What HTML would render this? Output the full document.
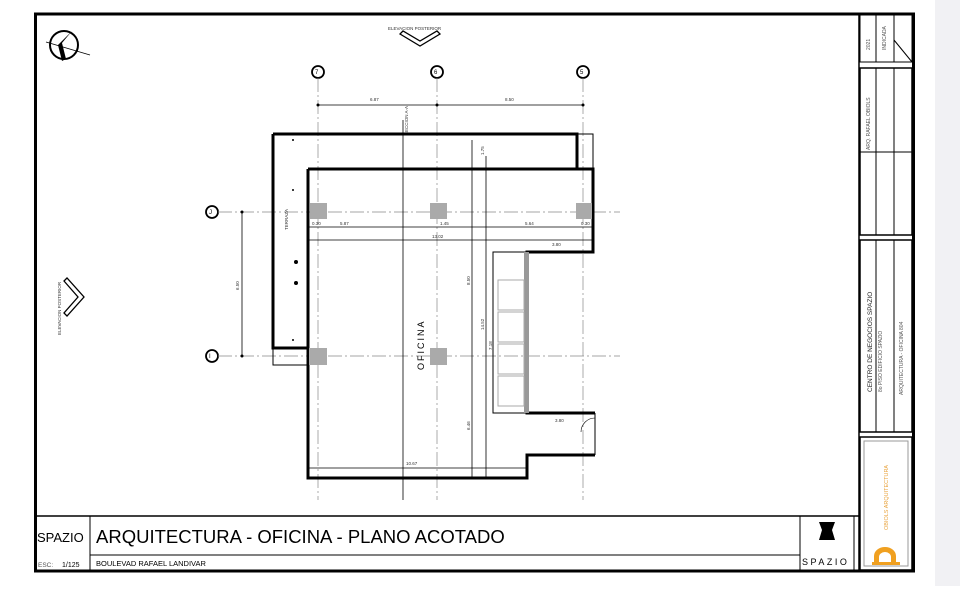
<!DOCTYPE html>
<html><head><meta charset="utf-8"><style>
html,body{margin:0;padding:0;background:#fff;}
body{width:960px;height:586px;overflow:hidden;position:relative;font-family:"Liberation Sans",sans-serif;}
</style></head><body>
<svg width="960" height="586" viewBox="0 0 960 586" xmlns="http://www.w3.org/2000/svg" font-family="Liberation Sans, sans-serif">
<rect x="935" y="0" width="25" height="586" fill="#f1f1f4"/>
<!-- frame -->
<rect x="35.5" y="14" width="878" height="557" fill="none" stroke="#000" stroke-width="3"/>
<line x1="859" y1="14" x2="859" y2="571" stroke="#000" stroke-width="1.5"/>
<!-- right title column boxes -->
<g fill="none" stroke="#000" stroke-width="1">
<rect x="860" y="15" width="52" height="47"/>
<rect x="860" y="68" width="52" height="167" stroke-width="1.5"/>
<rect x="860" y="240" width="52" height="192" stroke-width="1.5"/>
<rect x="860" y="437" width="52" height="133" stroke-width="1.5"/>
<line x1="876" y1="15" x2="876" y2="62"/><line x1="894" y1="15" x2="894" y2="62"/>
<line x1="894" y1="40" x2="912" y2="62"/>
<line x1="876" y1="68" x2="876" y2="235"/><line x1="894" y1="68" x2="894" y2="235"/>
<line x1="860" y1="152" x2="912" y2="152"/>
<line x1="876" y1="240" x2="876" y2="432"/><line x1="894" y1="240" x2="894" y2="432"/>
<rect x="864" y="441" width="44" height="125" stroke="#999"/>
</g>
<g font-size="5" fill="#555">
<text transform="translate(870,50) rotate(-90)">2021</text>
<text transform="translate(886,50) rotate(-90)">INDICADA</text>
<text transform="translate(870,150) rotate(-90)">ARQ. RAFAEL OBIOLS</text>
<text transform="translate(872,392) rotate(-90)" font-size="6.5" fill="#222">CENTRO DE NEGOCIOS SPAZIO</text>
<text transform="translate(882,392) rotate(-90)">8o PISO EDIFICIO SPAZIO</text>
<text transform="translate(903,395) rotate(-90)">ARQUITECTURA - OFICINA 804</text>
<text transform="translate(888,530) rotate(-90)" fill="#e8a23b" font-size="5.5">OBIOLS ARQUITECTURA</text>
</g>
<path d="M874 563 v-7 a11 9 0 0 1 22 0 v7 h-5 v-6 a6 5 0 0 0 -12 0 v6z" fill="#f0a020"/>
<rect x="872" y="562" width="28" height="3" fill="#f0a020"/>
<!-- bottom title block -->
<g fill="none" stroke="#000">
<line x1="35" y1="516" x2="859" y2="516" stroke-width="1.5"/>
<line x1="90" y1="516" x2="90" y2="571" stroke-width="1"/>
<line x1="90" y1="555" x2="800" y2="555"/>
<rect x="800" y="516" width="54" height="54"/>
</g>
<text x="37" y="542" font-size="13">SPAZIO</text>
<text x="96" y="543" font-size="18.5">ARQUITECTURA - OFICINA - PLANO ACOTADO</text>
<text x="38" y="567" font-size="6.5" fill="#555">ESC:</text><text x="62" y="567" font-size="7">1/125</text>
<text x="96" y="566" font-size="7.5">BOULEVAD RAFAEL LANDIVAR</text>
<path d="M819 522 l16 0 -3 8 3 10 -16 0 3 -10z" fill="#000"/>
<text x="802" y="565" font-size="9" letter-spacing="2.5">SPAZIO</text>
<!-- north arrow -->
<circle cx="64" cy="45" r="14" fill="none" stroke="#000" stroke-width="2"/>
<line x1="46" y1="42" x2="90" y2="55" stroke="#000" stroke-width="0.8"/>
<path d="M72 31 l-10 12 4 16 -4 2 -4 -16z" fill="#000"/>
<!-- elevations -->
<text x="388" y="30" font-size="4.5" fill="#333">ELEVACION POSTERIOR</text>
<path d="M400 34 l20 12 20 -12 -3 -3 -17 10 -17 -10z" fill="none" stroke="#000" stroke-width="1.3"/>
<text transform="translate(61,335) rotate(-90)" font-size="4.5" fill="#333">ELEVACION POSTERIOR</text>
<path d="M67 291 l14 16 -14 16 3 3 17 -19 -17 -19z" fill="none" stroke="#000" stroke-width="1.3" transform="translate(-3,-10)"/>
<!-- axes -->
<g fill="none" stroke="#000" stroke-width="1.8">
<circle cx="318" cy="72" r="6"/><circle cx="437" cy="72" r="6"/><circle cx="583" cy="72" r="6"/>
<circle cx="212" cy="212" r="6"/><circle cx="212" cy="356" r="6"/>
</g>
<g font-size="6"><text x="315" y="74">7</text><text x="434" y="74">6</text><text x="580" y="74">5</text><text x="209" y="214">J</text><text x="209" y="358">I</text></g>
<g stroke="#888" stroke-width="0.7" stroke-dasharray="14 3 2 3" fill="none">
<line x1="318" y1="78" x2="318" y2="500"/><line x1="437" y1="78" x2="437" y2="500"/><line x1="583" y1="78" x2="583" y2="500"/>
<line x1="218" y1="212" x2="620" y2="212"/><line x1="218" y1="356" x2="620" y2="356"/>
</g>
<g stroke="#000" stroke-width="0.8">
<line x1="318" y1="105" x2="583" y2="105"/>
<line x1="242" y1="212" x2="242" y2="356"/>
<line x1="403" y1="120" x2="403" y2="500"/>
<line x1="472" y1="140" x2="472" y2="478"/>
<line x1="308" y1="227" x2="593" y2="227"/>
<line x1="308" y1="240" x2="593" y2="240"/>
<line x1="308" y1="468" x2="527" y2="468"/>
<line x1="486" y1="156" x2="486" y2="478"/>
</g>
<g fill="#000"><circle cx="318" cy="105" r="1.5"/><circle cx="437" cy="105" r="1.5"/><circle cx="583" cy="105" r="1.5"/><circle cx="242" cy="212" r="1.5"/><circle cx="242" cy="356" r="1.5"/></g>
<g font-size="4.5" fill="#333">
<text x="370" y="101">6.87</text><text x="505" y="101">8.50</text>
<text transform="translate(239,290) rotate(-90)">6.50</text>
<text x="340" y="225">5.87</text><text x="525" y="225">5.64</text><text x="440" y="225">1.45</text>
<text x="432" y="238">13.02</text><text x="406" y="465">10.67</text>
<text x="552" y="246">3.80</text><text x="555" y="422">3.80</text>
<text x="312" y="225">0.30</text><text x="581" y="225">0.30</text>
<text transform="translate(470,285) rotate(-90)">8.50</text>
<text transform="translate(484,330) rotate(-90)">14.52</text>
<text transform="translate(492,350) rotate(-90)">7.18</text>
<text transform="translate(470,430) rotate(-90)">6.46</text>
<text transform="translate(484,155) rotate(-90)">1.75</text>
<text transform="translate(408,135) rotate(-90)">SECCION A-A</text>
<text transform="translate(288,230) rotate(-90)">TERRAZA</text>
</g>
<text transform="translate(424,370) rotate(-90)" font-size="9" letter-spacing="2">OFICINA</text>
<!-- walls -->
<g fill="none" stroke="#000" stroke-width="3">
<path d="M273 134 H577 V169"/>
<path d="M273 134 V348 H308"/>
<path d="M308 169 H593 V252 H527 V413 H595"/>
<path d="M308 169 V478 H527 V455 H595"/>
</g>
<g fill="none" stroke="#000" stroke-width="1">
<rect x="577" y="134" width="16" height="35"/>
<rect x="273" y="348" width="35" height="17"/>
<rect x="493" y="252" width="34" height="161"/>
<line x1="595" y1="413" x2="595" y2="455"/>
<path d="M595 418 a14 14 0 0 0 -14 14" stroke-width="0.6"/>
</g>
<rect x="524" y="252" width="5" height="161" fill="#999"/>
<g fill="#aaa"><rect x="310" y="203" width="17" height="16"/><rect x="430" y="203" width="17" height="16"/><rect x="576" y="203" width="16" height="16"/><rect x="309" y="348" width="18" height="17"/><rect x="430" y="348" width="17" height="17"/></g>
<g fill="none" stroke="#aaa" stroke-width="1">
<rect x="498" y="280" width="26" height="30"/><rect x="498" y="312" width="26" height="30"/><rect x="498" y="344" width="26" height="30"/><rect x="498" y="376" width="26" height="30"/>
</g>
<g fill="#000"><circle cx="296" cy="262" r="2"/><circle cx="296" cy="283" r="2"/><circle cx="293" cy="140" r="1"/><circle cx="293" cy="190" r="1"/><circle cx="293" cy="340" r="1"/></g>
</svg>
</body></html>
